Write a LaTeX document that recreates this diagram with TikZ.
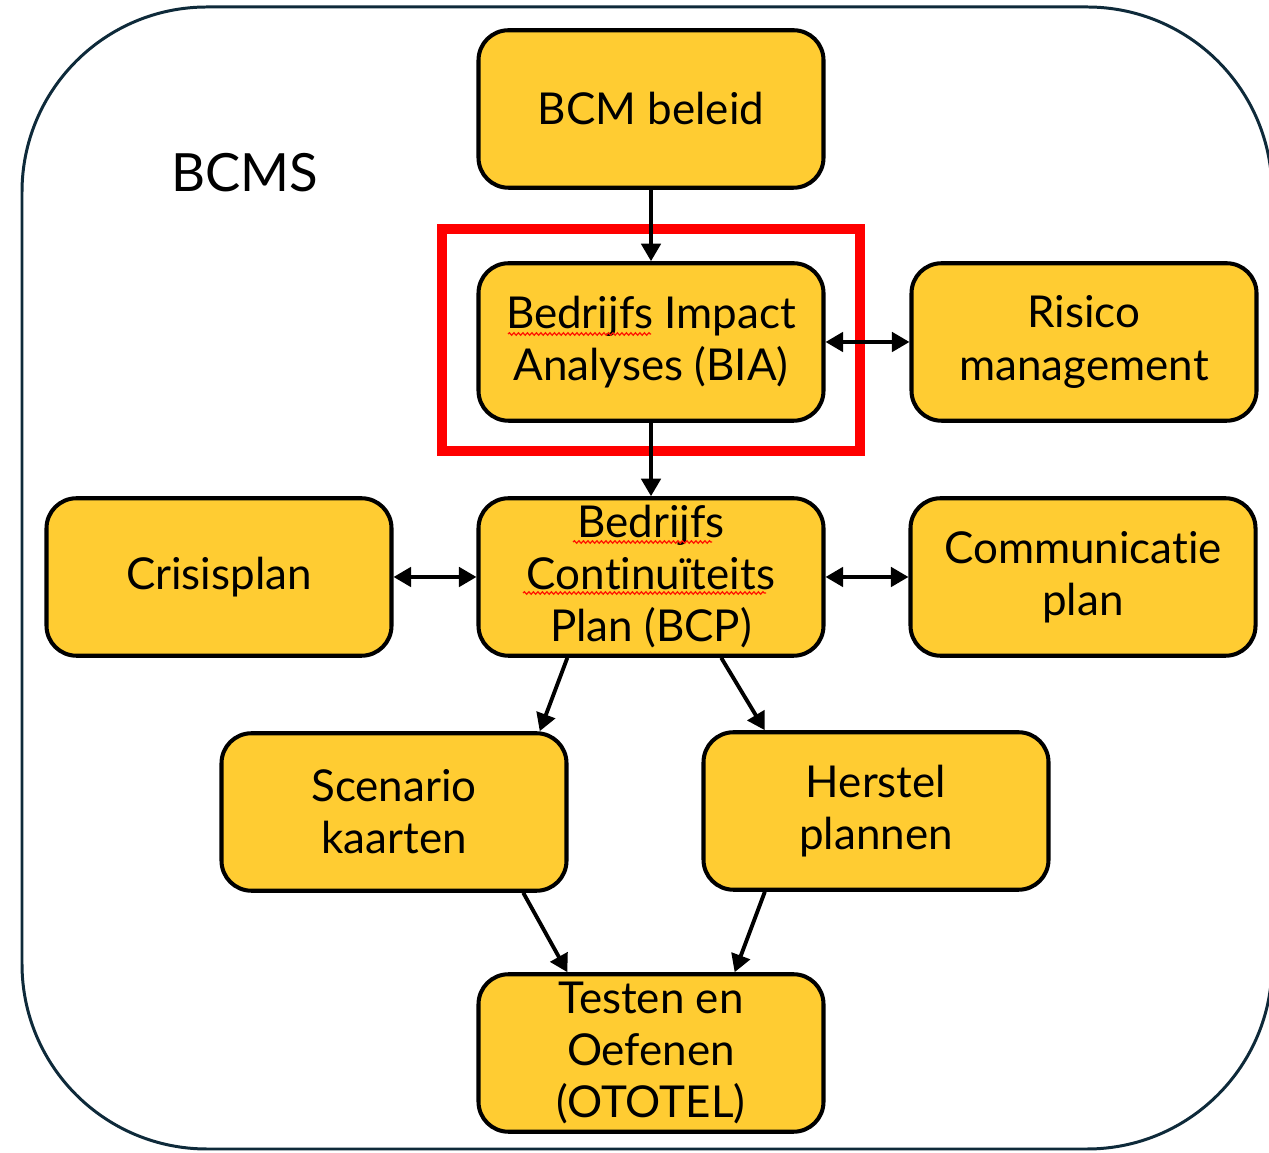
\documentclass[tikz,border=0pt]{standalone}
\usepackage{fontspec}
\setmainfont{Lato}
\usepackage{xcolor}
\usetikzlibrary{arrows.meta,decorations.pathmorphing}

\definecolor{boxyellow}{RGB}{255,204,50}
\definecolor{framenavy}{RGB}{14,42,58}
\definecolor{markred}{RGB}{255,0,0}

\begin{document}
\begin{tikzpicture}[
		blok/.style={draw=black, line width=2.3pt, fill=boxyellow, rounded corners=0.6cm,
			minimum width=6.9cm, minimum height=3.15cm, inner sep=0pt, align=center,
			font=\fontsize{25}{29.6}\selectfont},
		pijl/.style={line width=2.2pt, -{Triangle[length=10pt,width=11pt]}},
		dubbelpijl/.style={line width=2.2pt, {Triangle[length=10pt,width=11pt]}-{Triangle[length=10pt,width=11pt]}},
		spelling/.style={red!85!orange, line width=0.7pt, decorate,
			decoration={snake, segment length=0.09cm, amplitude=0.025cm}}
	]
			\useasboundingbox (0,0) rectangle (25.38,23.04);
			\draw[framenavy, line width=1.7pt, rounded corners=3.7cm] (0.44,0.06) rectangle (25.44,22.9);
			\node (bcms) at (4.9,19.58) {\fontsize{30}{36}\selectfont BCMS};
			% boxes
			\node[blok] (beleid) at (13.02,20.86) {BCM beleid};
			\node[blok] (bia) at (13.02,16.2) {Bedrijfs Impact\\Analyses (BIA)};
			\node[blok] (risico) at (21.68,16.2) {Risico\\management};
			\node[blok] (crisis) at (4.38,11.5) {Crisisplan};
			\node[blok] (bcp) at (13.02,11.5) {Bedrijfs\\Cont\kern0pt inuïteits\\Plan (BCP)};
			\node[blok] (comm) at (21.66,11.5) {Communicat\kern0pt ie\\plan};
			\node[blok] (scenario) at (7.88,6.8) {Scenario\\kaarten};
			\node[blok] (herstel) at (17.52,6.82) {Herstel\\plannen};
			\node[blok] (testen) at (13.02,1.98) {Testen en\\Oefenen\\(OTOTEL)};
			% spelling marks
			\draw[spelling] (10.16,16.36) -- (13.02,16.36);
			\draw[spelling] (11.46,12.2) -- (14.24,12.2);
			\draw[spelling] (10.46,11.18) -- (15.32,11.18);
			% highlight
			\draw[markred, line width=0.2cm] (8.84,18.46) rectangle (17.2,14.02);
			% arrows
			\draw[pijl] (beleid.south) -- (bia.north);
			\draw[pijl] (bia.south) -- (bcp.north);
			\draw[dubbelpijl] (bia.east) -- (risico.west);
			\draw[dubbelpijl] (crisis.east) -- (bcp.west);
			\draw[dubbelpijl] (bcp.east) -- (comm.west);
			\draw[pijl] (bcp.-136) -- (scenario.29);
			\draw[pijl] (bcp.-49) -- (herstel.144);
			\draw[pijl] (scenario.-32) -- (testen.136);
			\draw[pijl] (herstel.-144) -- (testen.44);
		\end{tikzpicture}
\end{document}
